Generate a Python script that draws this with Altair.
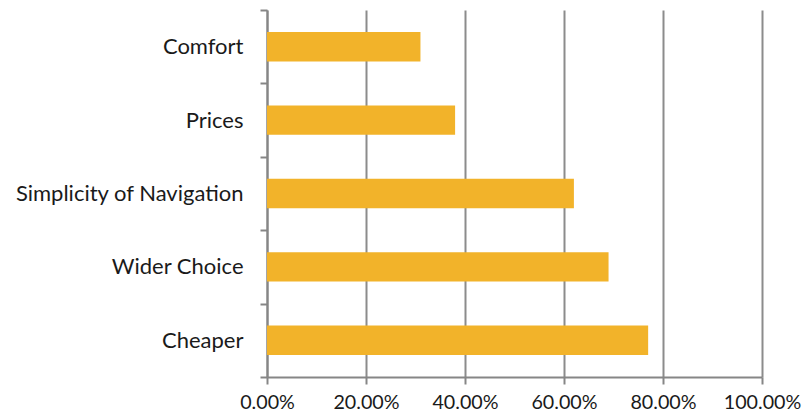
import altair as alt
import pandas as pd

categories = ["Comfort", "Prices", "Simplicity of Navigation", "Wider Choice", "Cheaper"]
values = [0.31, 0.38, 0.62, 0.69, 0.77]
x_ticks = [0, 0.2, 0.4, 0.6, 0.8, 1.0]

df = pd.DataFrame({"category": categories, "value": values})

chart = alt.Chart(df).mark_bar(color="#F2B32A", height=alt.RelativeBandSize(0.4)).encode(
    y=alt.Y("category:N", sort=categories,
            scale=alt.Scale(paddingInner=0, paddingOuter=0),
            axis=alt.Axis(title=None, grid=False, tickBand="extent",
                          domainColor="#868686", domainWidth=2,
                          tickColor="#868686", tickWidth=2, tickSize=7,
                          labelPadding=17, labelFont="Lato", labelFontSize=22,
                          labelLimit=400, labelColor="#1a1a1a")),
    x=alt.X("value:Q", scale=alt.Scale(domain=[0, 1], nice=False),
            axis=alt.Axis(title=None, format=".2%", values=x_ticks,
                          grid=True, gridColor="#8c8c8c", gridWidth=2,
                          domainColor="#868686", domainWidth=2,
                          tickColor="#868686", tickWidth=2, tickSize=7,
                          labelFlush=False, labelOverlap=False,
                          labelPadding=8, labelFont="Lato", labelFontSize=19.7,
                          labelColor="#1a1a1a")),
).properties(
    width=495, height=367,
    autosize=alt.AutoSizeParams(type="none"),
    padding={"left": 267, "top": 10, "right": 42, "bottom": 36},
).configure_view(stroke=None)

chart.save("out.html", embed_options={"renderer": "svg", "actions": False})
